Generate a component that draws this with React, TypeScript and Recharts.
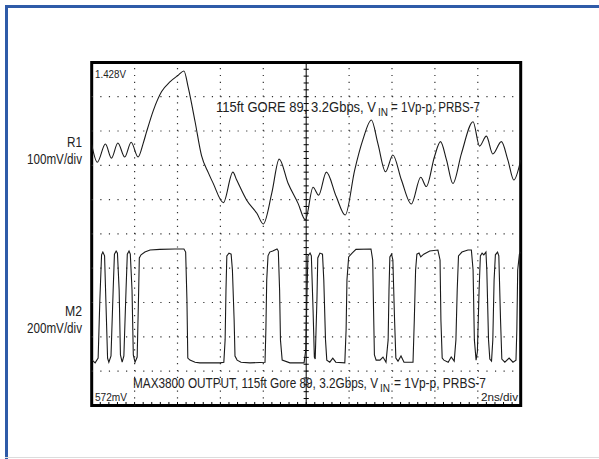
import React from "react";
import { LineChart, Line, XAxis, YAxis, ReferenceLine, ReferenceArea } from "recharts";

// Time axis in divisions (2ns/div), vertical axis in divisions (10 div full screen)
const R1_T = [0.0, 0.13, 0.32, 0.46, 0.61, 0.77, 0.92, 1.08, 1.2, 1.28, 1.44, 1.63, 1.83, 2.02, 2.15, 2.25, 2.41, 2.56, 2.72, 2.83, 3.07, 3.29, 3.38, 3.61, 3.85, 4.0, 4.2, 4.37, 4.58, 4.81, 4.98, 5.16, 5.29, 5.47, 5.7, 5.91, 6.13, 6.32, 6.52, 6.67, 6.85, 7.02, 7.22, 7.45, 7.67, 7.8, 7.99, 8.13, 8.27, 8.42, 8.62, 8.89, 9.04, 9.2, 9.35, 9.55, 9.7, 9.84, 10.0];
const R1_V = [7.6, 7.09, 7.62, 7.21, 7.65, 7.24, 7.67, 7.24, 7.64, 7.98, 8.61, 9.15, 9.44, 9.63, 9.75, 9.27, 8.27, 7.28, 6.78, 6.48, 5.91, 6.8, 6.57, 5.99, 5.6, 5.29, 6.2, 7.18, 6.47, 5.89, 5.41, 6.36, 6.13, 6.8, 6.09, 5.55, 6.86, 7.74, 8.32, 7.64, 6.81, 7.3, 6.57, 5.87, 6.65, 6.38, 7.25, 7.69, 7.16, 6.47, 7.35, 8.27, 7.56, 7.85, 7.33, 7.69, 7.16, 6.57, 7.15];

const M2_T = [0.01, 0.08, 0.15, 0.19, 0.23, 0.26, 0.3, 0.33, 0.37, 0.4, 0.45, 0.5, 0.53, 0.57, 0.6, 0.64, 0.67, 0.71, 0.75, 0.8, 0.83, 0.87, 0.9, 0.94, 0.97, 1.01, 1.06, 1.09, 1.11, 1.15, 1.24, 1.36, 1.59, 1.94, 2.15, 2.19, 2.22, 2.24, 2.29, 2.41, 2.52, 2.99, 3.08, 3.11, 3.13, 3.15, 3.2, 3.25, 3.28, 3.32, 3.34, 3.39, 3.48, 3.69, 4.04, 4.06, 4.08, 4.11, 4.15, 4.22, 4.32, 4.35, 4.38, 4.4, 4.44, 4.62, 4.95, 4.99, 5.02, 5.04, 5.09, 5.12, 5.16, 5.19, 5.21, 5.25, 5.27, 5.32, 5.38, 5.41, 5.45, 5.48, 5.55, 5.62, 5.69, 5.9, 5.93, 5.95, 5.99, 6.07, 6.16, 6.51, 6.55, 6.57, 6.59, 6.63, 6.72, 6.79, 6.86, 6.91, 6.93, 6.95, 6.99, 7.02, 7.06, 7.09, 7.14, 7.21, 7.28, 7.49, 7.52, 7.55, 7.58, 7.63, 7.67, 7.74, 7.88, 8.07, 8.12, 8.14, 8.17, 8.21, 8.31, 8.38, 8.45, 8.49, 8.52, 8.55, 8.63, 8.77, 8.85, 8.89, 8.92, 8.96, 8.99, 9.03, 9.06, 9.1, 9.14, 9.19, 9.21, 9.25, 9.28, 9.32, 9.35, 9.38, 9.41, 9.46, 9.49, 9.53, 9.56, 9.63, 9.73, 9.82, 9.89, 9.91, 9.93, 9.97, 10.0];
const M2_V = [1.32, 1.24, 1.38, 3.07, 4.39, 4.47, 4.36, 3.07, 1.38, 1.26, 1.44, 3.36, 4.41, 4.5, 4.44, 3.36, 1.47, 1.26, 1.44, 3.36, 4.41, 4.5, 4.41, 3.36, 1.47, 1.26, 1.41, 3.07, 4.3, 4.39, 4.47, 4.53, 4.55, 4.56, 4.56, 4.47, 3.07, 1.38, 1.32, 1.26, 1.24, 1.24, 1.26, 1.91, 3.36, 4.36, 4.44, 4.41, 3.95, 2.49, 1.44, 1.32, 1.26, 1.24, 1.26, 2.2, 3.66, 4.36, 4.47, 4.5, 4.56, 4.5, 3.36, 1.91, 1.32, 1.24, 1.24, 1.62, 3.36, 4.36, 4.44, 4.36, 2.78, 1.41, 1.35, 3.07, 4.3, 4.44, 4.41, 3.66, 1.91, 1.32, 1.26, 1.38, 1.26, 1.24, 2.2, 3.66, 4.33, 4.44, 4.55, 4.56, 4.24, 2.78, 1.47, 1.32, 1.32, 1.41, 1.26, 1.91, 3.36, 4.33, 4.41, 4.24, 2.49, 1.38, 1.29, 1.44, 1.26, 1.26, 2.49, 3.95, 4.41, 4.44, 4.33, 4.41, 4.5, 4.53, 4.24, 2.49, 1.38, 1.32, 1.26, 1.41, 1.29, 1.91, 3.36, 4.36, 4.47, 4.53, 4.53, 3.95, 1.91, 1.32, 1.56, 3.36, 4.36, 4.44, 4.39, 4.47, 3.95, 1.91, 1.35, 1.29, 1.91, 3.66, 4.39, 4.47, 4.36, 2.49, 1.35, 1.26, 1.38, 1.26, 1.32, 2.2, 3.95, 4.41, 4.47];

const DIVS = [1, 2, 3, 4, 6, 7, 8, 9];
const HDIVS = [1, 2, 3, 4, 5, 6, 7, 8, 9];
const MINOR = Array.from({ length: 49 }, (_, i) => (i + 1) * 0.2);

const r1Data = R1_T.map((t, i) => ({ t, v: R1_V[i] }));
const m2Data = M2_T.map((t, i) => ({ t, v: M2_V[i] }));

const FONT = "'Liberation Sans', Arial, sans-serif";
const TXT = "#222";

type STProps = { x: number; y: number; fs: number; sy: number; w: number; anchor?: "start" | "end"; children: React.ReactNode };
function SText({ x, y, fs, sy, w, anchor = "start", children }: STProps) {
  return (
    <text
      transform={`translate(${x} ${y}) scale(1 ${sy})`}
      x={0}
      y={0}
      fontSize={fs}
      textAnchor={anchor}
      textLength={w}
      lengthAdjust="spacingAndGlyphs"
    >
      {children}
    </text>
  );
}

export default function App() {
  return (
    <div style={{ position: "absolute", left: 0, top: 0, width: 599, height: 459, background: "#fff", overflow: "hidden" }}>
      <LineChart
        width={599}
        height={459}
        margin={{ top: 62.4, right: 78.3, bottom: 53.6, left: 91.7 }}
      >
        <XAxis type="number" dataKey="t" domain={[0, 10]} hide allowDataOverflow />
        <YAxis type="number" domain={[0, 10]} hide allowDataOverflow />
        {DIVS.map((k) => (
          <ReferenceLine key={"vx" + k} x={k} stroke="#333" strokeWidth={1.2} strokeDasharray="1.2 5.66" />
        ))}
        {HDIVS.map((k) => (
          <ReferenceLine key={"hy" + k} y={k} stroke="#333" strokeWidth={1.2} strokeDasharray="1.2 7.38" />
        ))}
        <ReferenceLine x={5} stroke="#000" strokeWidth={1} />
        {MINOR.map((m) => (
          <ReferenceLine
            key={"ct" + m}
            segment={[{ x: 4.94, y: m }, { x: 5.06, y: m }]}
            stroke="#000"
            strokeWidth={1}
          />
        ))}
        {MINOR.map((m) => (
          <ReferenceLine
            key={"bt" + m}
            segment={[{ x: m, y: 0 }, { x: m, y: 0.1 }]}
            stroke="#000"
            strokeWidth={1}
          />
        ))}
        <ReferenceArea x1={0} x2={10} y1={0} y2={10} fill="none" stroke="#000" strokeWidth={3} ifOverflow="visible" />
        <Line data={r1Data} dataKey="v" type="monotone" stroke="#1a1a1a" strokeWidth={1.1} dot={false} isAnimationActive={false} />
        <Line data={m2Data} dataKey="v" type="linear" stroke="#1a1a1a" strokeWidth={1.1} dot={false} isAnimationActive={false} />
      </LineChart>
      <svg width={599} height={459} style={{ position: "absolute", left: 0, top: 0, pointerEvents: "none" }}>
        <rect x={5} y={5} width={594} height={3} fill="#2f5ba8" />
        <rect x={5} y={5} width={3} height={454} fill="#2f5ba8" />
        <rect x={5} y={457} width={594} height={1} fill="#dcdcdc" />
        <g fontFamily={FONT} fill={TXT}>
          <SText x={95} y={77.5} fs={9.8} sy={1.17} w={31}>1.428V</SText>

          <SText x={216} y={111.5} fs={12.5} sy={1.24} w={160}>115ft GORE 89, 3.2Gbps, V</SText>
          <SText x={378} y={115.5} fs={9} sy={1.17} w={10}>IN</SText>
          <SText x={391} y={111.5} fs={11.5} sy={1.35} w={89}>= 1Vp-p, PRBS-7</SText>

          <SText x={133} y={387.5} fs={11.7} sy={1.32} w={245}>MAX3800 OUTPUT, 115ft Gore 89, 3.2Gbps, V</SText>
          <SText x={380} y={391.5} fs={9} sy={1.17} w={10}>IN</SText>
          <SText x={394} y={387.5} fs={11.8} sy={1.31} w={92}>= 1Vp-p, PRBS-7</SText>

          <SText x={95} y={401} fs={10} sy={1.15} w={32}>572mV</SText>
          <SText x={481} y={401} fs={10.5} sy={1.1} w={37}>2ns/div</SText>
          <SText x={82} y={147} fs={11.7} sy={1.22} w={15} anchor="end">R1</SText>
          <SText x={82} y={164} fs={11.6} sy={1.22} w={55} anchor="end">100mV/div</SText>
          <SText x={82} y={316} fs={11.7} sy={1.22} w={17} anchor="end">M2</SText>
          <SText x={82} y={333} fs={11.6} sy={1.22} w={55} anchor="end">200mV/div</SText>
        </g>
      </svg>
    </div>
  );
}
